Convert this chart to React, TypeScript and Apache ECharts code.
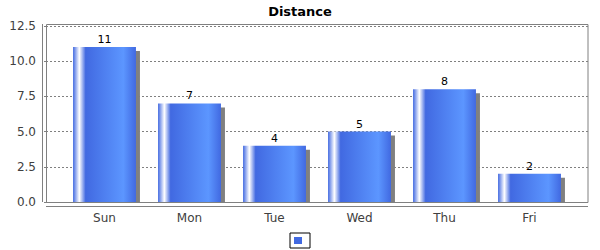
import React, { useEffect, useRef } from 'react';
import * as echarts from 'echarts';

const categories = ['Sun', 'Mon', 'Tue', 'Wed', 'Thu', 'Fri'];
const distance = [11, 7, 4, 5, 8, 2];
const yMin = 0;
const yMax = 12.5;
const yInterval = 2.5;
const chartTitle = 'Distance';
const seriesName = 'Distance';

const BASE = '#4169E1';
const BRIGHT = '#5C96FF';
const FONT = 'DejaVu Sans';

export default function App() {
  const ref = useRef<HTMLDivElement>(null);
  useEffect(() => {
    if (!ref.current) return;
    const chart = echarts.init(ref.current, undefined, { renderer: 'svg' });
    const gradient = new echarts.graphic.LinearGradient(0, 0, 1, 0, [
      { offset: 0, color: BASE },
      { offset: 0.1, color: '#FFFFFF' },
      { offset: 0.2, color: BASE },
      { offset: 0.8, color: BRIGHT },
      { offset: 1, color: BASE },
    ]);
    chart.setOption({
      animation: false,
      textStyle: { fontFamily: FONT },
      title: {
        text: chartTitle,
        left: 'center',
        top: 0,
        textStyle: { fontSize: 13, fontWeight: 'bold', color: '#000', fontFamily: FONT },
      },
      legend: {
        left: 290,
        top: 233,
        itemWidth: 8,
        itemHeight: 7,
        padding: [4, 8, 4, 4],
        borderColor: '#000',
        borderWidth: 1,
        formatter: () => '',
        data: [{ name: seriesName, icon: 'rect', itemStyle: { color: BASE } }],
      },
      grid: [
        { left: 46, top: 26, width: 542, height: 176 },
        { left: 62, top: 26, width: 510, height: 176 },
      ],
      xAxis: [
        { gridIndex: 0, type: 'value', show: false, min: 0, max: 1 },
        {
          gridIndex: 1,
          type: 'category',
          data: categories,
          axisLine: { show: false },
          axisTick: { show: false },
          axisLabel: { color: '#404040', fontSize: 12, fontFamily: FONT, margin: 10 },
        },
      ],
      yAxis: [
        {
          gridIndex: 0,
          type: 'value',
          min: yMin,
          max: yMax,
          interval: yInterval,
          offset: 4,
          axisLine: { show: false },
          axisTick: { show: true, length: 2, lineStyle: { color: '#808080' } },
          axisLabel: {
            formatter: (v: number) => v.toFixed(1),
            margin: 6,
            color: '#404040',
            fontSize: 12,
            fontFamily: FONT,
          },
          splitLine: { show: true, lineStyle: { type: [2, 2], color: '#808080', width: 1 } },
        },
        { gridIndex: 1, type: 'value', min: yMin, max: yMax, interval: yInterval, show: false },
      ],
      graphic: [
        {
          type: 'rect',
          z: 0,
          shape: { x: 46.5, y: 24.5, width: 541.5, height: 178 },
          style: { fill: 'none', stroke: '#808080', lineWidth: 1 },
        },
        {
          type: 'line',
          shape: { x1: 42.5, y1: 24, x2: 42.5, y2: 202 },
          style: { stroke: '#808080', lineWidth: 1 },
        },
        {
          type: 'line',
          shape: { x1: 46, y1: 206.5, x2: 588, y2: 206.5 },
          style: { stroke: '#808080', lineWidth: 1 },
        },
      ],
      series: [
        {
          name: 'shadow',
          type: 'custom',
          xAxisIndex: 1,
          yAxisIndex: 1,
          z: 1,
          data: distance.map((v, i) => [i, v]),
          encode: { x: 0, y: 1 },
          renderItem: (params: any, api: any) => {
            const idx = api.value(0);
            const v = api.value(1);
            const top = api.coord([idx, v]);
            const base = api.coord([idx, 0]);
            const band = api.size([1, 0])[0];
            const w = band * 0.74;
            return {
              type: 'rect',
              shape: { x: top[0] - w / 2 + 4, y: top[1] + 4, width: w, height: base[1] - top[1] - 4 },
              style: { fill: '#808080' },
            };
          },
        },
        {
          name: seriesName,
          type: 'bar',
          xAxisIndex: 1,
          yAxisIndex: 1,
          z: 2,
          barWidth: '74%',
          data: distance,
          itemStyle: { color: gradient },
          label: {
            show: true,
            position: 'top',
            distance: 2,
            color: '#000',
            fontSize: 11,
            fontFamily: FONT,
          },
        },
      ],
    });
    return () => chart.dispose();
  }, []);
  return <div ref={ref} style={{ position: 'absolute', left: 0, top: 0, width: 600, height: 250 }} />;
}
